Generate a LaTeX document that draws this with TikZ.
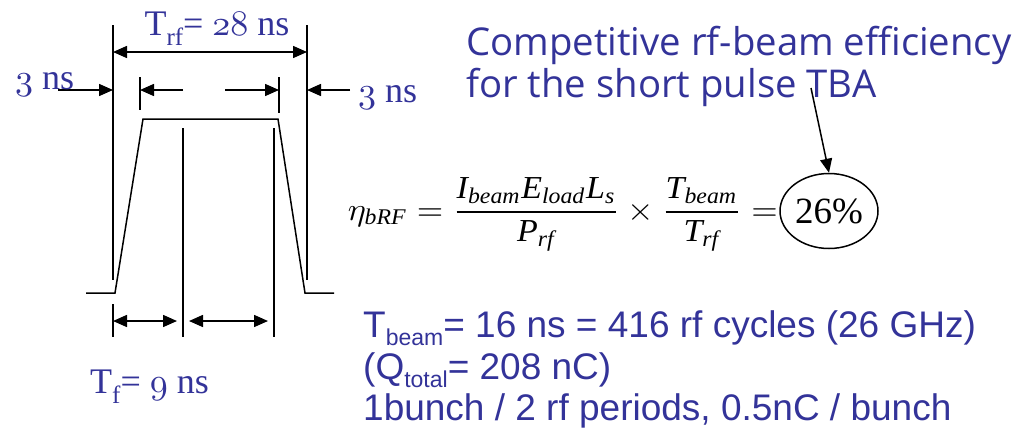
\documentclass[tikz,border=0pt]{standalone}
\usepackage{graphicx}
\usepackage{amsmath}
\usepackage{fontspec}
\setmainfont{Liberation Serif}
\newfontfamily\comicfont{Open Sans}
\newfontfamily\arialfont{Liberation Sans}
\newfontfamily\timesfont{Liberation Serif}
\usetikzlibrary{arrows.meta,shapes.geometric}
\definecolor{slide}{HTML}{333399}
\definecolor{ink}{HTML}{000000}
\newcommand{\labf}{\fontsize{36}{40}\selectfont}
\newcommand{\titlef}{\comicfont\fontsize{38.3}{42}\selectfont}
\newcommand{\notef}{\arialfont\fontsize{37}{40}\selectfont}
\newcommand{\pctf}{\timesfont\fontsize{37}{40}\selectfont}
\newcommand{\osn}[1]{\scalebox{3.6}{\fontsize{10}{12}\usefont{OML}{cmm}{m}{it}#1}}
\newcommand{\labsub}[1]{\raisebox{-10pt}{\fontsize{25}{25}\selectfont #1}}
\newcommand{\notesub}[1]{\raisebox{-8pt}{\fontsize{23}{23}\selectfont #1}}
\newcommand{\mi}[1]{\text{\timesfont\itshape #1}}

\begin{document}
\begin{tikzpicture}[x=1pt,y=-1pt,
  edge/.style={ink,line width=1.5pt},
  onetip/.style={ink,line width=1.5pt,-{Triangle[length=14pt,width=12pt]}},
  bothtip/.style={ink,line width=1.5pt,{Triangle[length=14pt,width=12pt]}-{Triangle[length=14pt,width=12pt]}},
  lab/.style={inner sep=0,text=slide,font=\labf},
  note/.style={anchor=base west,inner sep=0,text=slide,font=\notef}]
\useasboundingbox (0,0) rectangle (1030,434);
% pulse and guide lines
\draw[edge] (113,25) -- (113,280);
\draw[edge] (307,25) -- (307,280);
\draw[edge] (140,77) -- (140,110);
\draw[edge] (279,77) -- (279,113);
\draw[edge] (86,293) -- (115,293) -- (143,119) -- (278,119) -- (305,293) -- (334,293);
\draw[edge] (183,128) -- (183,337);
\draw[edge] (274,128) -- (274,337);
\draw[edge] (113,304) -- (113,337);
% dimension arrows
\coordinate (rfl) at (113,52); \coordinate (rfr) at (307,52);
\draw[bothtip] (rfl) -- (rfr);
\coordinate (lfrom) at (58,90); \coordinate (lto) at (113,90);
\draw[onetip] (lfrom) -- (lto);
\coordinate (rfrom) at (350,90); \coordinate (rto) at (307,90);
\draw[onetip] (rfrom) -- (rto);
\coordinate (ilfrom) at (183,90); \coordinate (ilto) at (140,90);
\draw[onetip] (ilfrom) -- (ilto);
\coordinate (irfrom) at (225,90); \coordinate (irto) at (279,90);
\draw[onetip] (irfrom) -- (irto);
\coordinate (fa) at (113,321); \coordinate (fb) at (177,321);
\draw[bothtip] (fa) -- (fb);
\coordinate (fc) at (189,321); \coordinate (fd) at (268,321);
\draw[bothtip] (fc) -- (fd);
% labels
\node[lab,anchor=base] (trf) at (217,35) {T\labsub{rf}= \osn{28} ns};
\node[lab,anchor=base west] (risel) at (15,89) {\osn{3} ns};
\node[lab,anchor=base west] (riser) at (358,102) {\osn{3} ns};
\node[lab,anchor=base west] (tf) at (90,393) {T\labsub{f}= \osn{9} ns};
% efficiency
\node[anchor=base west,inner sep=0,text=slide,font=\titlef] (title1) at (466,55) {Competitive rf-beam efficiency};
\node[anchor=base west,inner sep=0,text=slide,font=\titlef] (title2) at (466,97) {for the short pulse TBA};
\node[draw,ellipse,line width=1.5pt,minimum width=98pt,minimum height=75pt,inner sep=0,font=\pctf] (eff) at (829,211) {26\%};
\node[anchor=base east,inner sep=0] (eq) at (778,220)
  {\scalebox{3.4}[3.2]{$\displaystyle \eta_{\mi{bRF}}=\frac{\mi{I}_{\mi{beam}}\mi{E}_{\mi{load}}\mi{L}_{\mi{s}}}{\mi{P}_{\mi{rf}}}\times\frac{\mi{T}_{\mi{beam}}}{\mi{T}_{\mi{rf}}}=$}};
\coordinate (tba) at (811,88);
\draw[onetip] (tba) -- (eff.north);
% beam notes
\node[note] (nbeam) at (363,337) {T\notesub{beam}= 16 ns = 416 rf cycles (26 GHz)};
\node[note] (ncharge) at (363,379) {(Q\notesub{total}= 208 nC)};
\node[note] (nbunch) at (363,420) {1bunch / 2 rf periods, 0.5nC / bunch};
\end{tikzpicture}
\end{document}
